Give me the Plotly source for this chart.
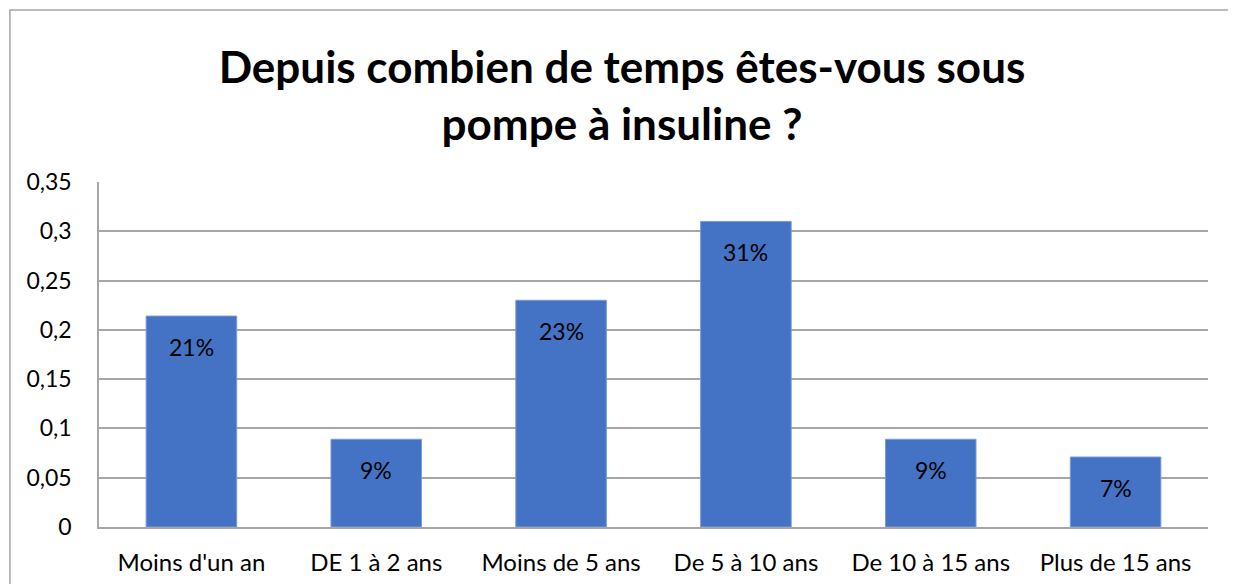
import plotly.graph_objects as go

categories = ["Moins d'un an", "DE 1 à 2 ans", "Moins de 5 ans",
              "De 5 à 10 ans", "De 10 à 15 ans", "Plus de 15 ans"]
values = [0.214, 0.089, 0.23, 0.31, 0.089, 0.071]
tickvals = [0, 0.05, 0.1, 0.15, 0.2, 0.25, 0.3, 0.35]
ticktext = ["0", "0,05", "0,1", "0,15", "0,2", "0,25", "0,3", "0,35"]

font = "Lato, 'Open Sans', sans-serif"

fig = go.Figure(go.Bar(
    x=categories, y=values,
    marker=dict(color="#4472C4", line=dict(color="#7A9BDA", width=1)),
    hoverinfo="skip",
))

# data labels sit a little under the top of each bar
for c, v in zip(categories, values):
    fig.add_annotation(x=c, y=v, text=f"{round(v*100)}%", showarrow=False,
                       yanchor="middle", yshift=-31,
                       font=dict(family=font, size=23, color="#000000"))

# page body has an 8px margin, so the figure is a bit smaller than the window
fig.update_layout(
    width=1228, height=576,
    margin=dict(l=91, r=28, t=174, b=57),
    paper_bgcolor="white", plot_bgcolor="white",
    bargap=0.51,
    showlegend=False,
    title=dict(text="<b>Depuis combien de temps êtes-vous sous<br>pompe à insuline ?</b>",
               x=0.5, xanchor="center", y=0.87, yanchor="middle",
               font=dict(family=font, size=44, color="#000000")),
    font=dict(family=font, size=24, color="#000000"),
)
fig.update_yaxes(range=[0, 0.35], tickvals=tickvals, ticktext=ticktext,
                 showgrid=True, gridcolor="#A6A6A6", gridwidth=1.5,
                 showline=True, linecolor="#A6A6A6", linewidth=1.5,
                 zeroline=False, ticks="", ticklabelstandoff=21, automargin=False,
                 tickfont=dict(family=font, size=23, color="#000000"))
fig.update_xaxes(showline=True, linecolor="#A6A6A6", linewidth=1.5,
                 ticks="", ticklabelstandoff=13, automargin=False,
                 tickfont=dict(family=font, size=24, color="#000000"))

# outer chart frame (cut off at the bottom in the reference)
fig.add_shape(type="rect", xref="paper", yref="paper",
              x0=-0.0803, x1=1.0234, y0=-0.3, y1=1.4986,
              line=dict(color="#A6A6A6", width=1.5), layer="below")

fig.write_html("out.html")
